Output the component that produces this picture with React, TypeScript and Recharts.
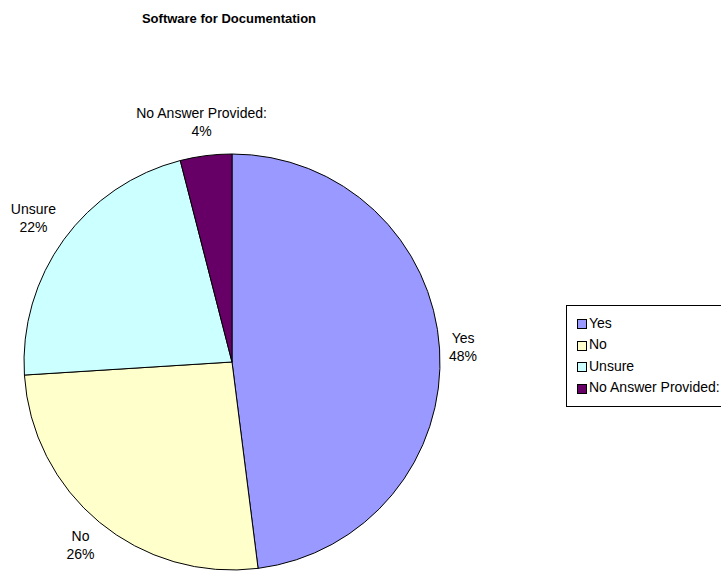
import { PieChart, Pie, Cell, Legend } from 'recharts'

const categories = ['Yes', 'No', 'Unsure', 'No Answer Provided:']
const shares = [48, 26, 22, 4]
const colors = ['#9999FF', '#FFFFCC', '#CCFFFF', '#660066']

const data = categories.map((name, i) => ({ name, value: shares[i] }))

const FONT = '"Liberation Sans", Arial, sans-serif'
const RADIAN = Math.PI / 180

function SliceLabel(props: any) {
  const { cx, cy, midAngle, outerRadius, name, percent } = props
  const dx = Math.cos(-midAngle * RADIAN)
  const dy = Math.sin(-midAngle * RADIAN)
  const lines = [name, `${Math.round(percent * 100)}%`]
  const w = Math.max(...lines.map((l: string) => l.length)) * 7.1
  const h = 28
  const dist = outerRadius + 12 + Math.abs(dx) * (w / 2) + Math.abs(dy) * (h / 2)
  const x = cx + dist * dx
  const y = cy + dist * dy
  return (
    <text x={x} y={y} textAnchor="middle" fontFamily={FONT} fontSize={14} fill="#000">
      <tspan x={x} y={y - 4}>{lines[0]}</tspan>
      <tspan x={x} y={y + 14}>{lines[1]}</tspan>
    </text>
  )
}

function LegendBox() {
  return (
    <div
      style={{
        border: '1px solid #000',
        width: 160,
        padding: '6px 0 8px 10px',
        fontFamily: FONT,
        fontSize: 14,
        background: '#fff',
        boxSizing: 'border-box',
      }}
    >
      {data.map((d, i) => (
        <div key={d.name} style={{ display: 'flex', alignItems: 'center', height: 21.5, whiteSpace: 'nowrap' }}>
          <span
            style={{
              display: 'inline-block',
              width: 8,
              height: 8,
              border: '1px solid #000',
              background: colors[i],
              marginRight: 2,
              marginTop: 3,
            }}
          />
          <span>{d.name}</span>
        </div>
      ))}
    </div>
  )
}

export default function App() {
  return (
    <div style={{ position: 'fixed', left: 0, top: 0, width: 721, height: 571, overflow: 'hidden', background: '#fff' }}>
      <div
        style={{
          position: 'absolute',
          left: 0,
          top: 11,
          width: 458,
          textAlign: 'center',
          fontFamily: FONT,
          fontWeight: 'bold',
          fontSize: 13,
        }}
      >
        Software for Documentation
      </div>
      <PieChart
        width={721}
        height={571}
        margin={{ top: 0, right: 0, bottom: 0, left: 0 }}
        style={{ overflow: 'visible' }}
      >
        <Pie
          data={data}
          dataKey="value"
          nameKey="name"
          cx={232}
          cy={362}
          outerRadius={208}
          startAngle={90}
          endAngle={-270}
          stroke="#000"
          strokeWidth={1}
          label={SliceLabel}
          labelLine={false}
          isAnimationActive={false}
        >
          {data.map((d, i) => (
            <Cell key={d.name} fill={colors[i]} />
          ))}
        </Pie>
        <Legend content={<LegendBox />} wrapperStyle={{ position: 'absolute', left: 566, top: 305, width: 160 }} />
      </PieChart>
    </div>
  )
}
